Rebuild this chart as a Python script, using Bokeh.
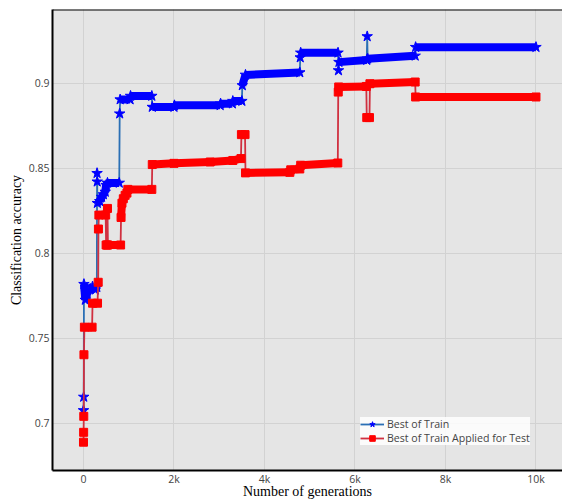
import numpy as np
from bokeh.plotting import figure
from bokeh.models import FixedTicker, Span, Legend, LegendItem, Range1d, ColumnDataSource
from bokeh.embed import file_html
from bokeh.resources import INLINE

# Best accuracy on the training set, by generation
train_gen = [0, 5, 10, 40, 80, 150, 200, 260, 295, 300, 303, 306, 360, 400, 440, 480,
             500, 530, 790, 800, 810, 1030, 1040, 1510, 1520, 2000, 2010, 3020, 3030,
             3290, 3300, 3500, 3510, 3580, 4780, 4790, 4800, 5625, 5635, 5645, 6260,
             6270, 6280, 7330, 7340, 10000]
train_acc = [0.7076, 0.7155, 0.7818, 0.7725, 0.7765, 0.7790, 0.7804, 0.7785, 0.7800,
             0.8470, 0.8420, 0.8294, 0.8305, 0.8330, 0.8345, 0.8360, 0.8400, 0.8413,
             0.8413, 0.8820, 0.8903, 0.8903, 0.8924, 0.8924, 0.8859, 0.8859, 0.8869,
             0.8869, 0.8879, 0.8879, 0.8894, 0.8894, 0.8986, 0.9048, 0.9062, 0.9150,
             0.9178, 0.9178, 0.9074, 0.9123, 0.9135, 0.9274, 0.9143, 0.9160, 0.9211,
             0.9211]

# The same individuals evaluated on the test set
test_gen = [0, 3, 6, 10, 20, 190, 200, 310, 325, 330, 340, 490, 500, 520, 530, 540,
            820, 830, 850, 880, 920, 960, 980, 1510, 1520, 2000, 2800, 3300, 3480,
            3490, 3570, 3580, 4560, 4580, 4780, 4800, 5620, 5630, 5640, 6250, 6260,
            6320, 6330, 7330, 7340, 10000]
test_acc = [0.6889, 0.6947, 0.7041, 0.7403, 0.7565, 0.7565, 0.7706, 0.7706, 0.7829,
            0.8142, 0.8224, 0.8224, 0.8048, 0.8048, 0.8263, 0.8048, 0.8048, 0.8210,
            0.8294, 0.8320, 0.8340, 0.8353, 0.8375, 0.8375, 0.8521, 0.8528, 0.8536,
            0.8545, 0.8556, 0.8697, 0.8697, 0.8472, 0.8475, 0.8490, 0.8495, 0.8517,
            0.8530, 0.8947, 0.8977, 0.8980, 0.8797, 0.8797, 0.8996, 0.9006, 0.8918,
            0.8918]

x_ticks = [0, 2000, 4000, 6000, 8000, 10000]
x_tick_labels = ["0", "2k", "4k", "6k", "8k", "10k"]
y_ticks = [0.7, 0.75, 0.8, 0.85, 0.9]
y_tick_labels = ["0.7", "0.75", "0.8", "0.85", "0.9"]

Y_TOP = 0.94323

p = figure(width=562, height=501,
           x_range=Range1d(-685, 10586), y_range=Range1d(0.67226, Y_TOP),
           output_backend="svg", toolbar_location=None,
           min_border_left=52, min_border_right=0, min_border_top=9,
           min_border_bottom=30)

p.background_fill_color = "#e5e5e5"
p.border_fill_color = "white"
p.outline_line_color = None

p.xaxis.ticker = FixedTicker(ticks=x_ticks)
p.xaxis.major_label_overrides = {t: s for t, s in zip(x_ticks, x_tick_labels)}
p.yaxis.ticker = FixedTicker(ticks=y_ticks)
p.yaxis.major_label_overrides = {t: s for t, s in zip(y_ticks, y_tick_labels)}
for ax in (p.xaxis, p.yaxis):
    ax.axis_line_color = "black"
    ax.axis_line_width = 2
    ax.major_tick_line_color = None
    ax.minor_tick_line_color = None
    ax.major_tick_out = 0
    ax.major_tick_in = 0
    ax.minor_tick_out = 0
    ax.minor_tick_in = 0
    ax.major_label_text_font = "Open Sans"
    ax.major_label_text_font_size = "10.5px"
    ax.major_label_text_color = "#444444"
    ax.axis_label_text_font = "Liberation Serif"
    ax.axis_label_text_font_size = "14px"
    ax.axis_label_text_font_style = "normal"
    ax.axis_label_text_color = "black"
p.xaxis.axis_label = "Number of generations"
p.yaxis.axis_label = "Classification accuracy"
p.xaxis.major_label_standoff = 1
p.xaxis.axis_label_standoff = -5
p.yaxis.major_label_standoff = 3
p.yaxis.axis_label_standoff = 2

p.xgrid.ticker = FixedTicker(ticks=x_ticks)
p.ygrid.ticker = FixedTicker(ticks=y_ticks)
p.grid.grid_line_color = "#d2d2d2"
p.grid.grid_line_width = 1

# top edge of the plotting area
p.add_layout(Span(location=Y_TOP, dimension="width", line_color="black", line_width=2))


def flat_runs(gen, acc, min_gap=15):
    """Segments between consecutive points that are far apart in generations."""
    g = np.asarray(gen, dtype=float)
    a = np.asarray(acc, dtype=float)
    keep = np.diff(g) > min_gap
    return ColumnDataSource(dict(x0=g[:-1][keep], x1=g[1:][keep],
                                 y0=a[:-1][keep], y1=a[1:][keep]))


def draw_series(gen, acc, line_color, mark_color, marker, size, band):
    line = p.line(gen, acc, line_color=line_color, line_width=1.8)
    p.segment("x0", "y0", "x1", "y1", source=flat_runs(gen, acc),
              line_color=mark_color, line_width=band, line_cap="butt")
    pts = p.scatter(gen, acc, marker=marker, size=size,
                    fill_color=mark_color, line_color=mark_color)
    return line, pts


bl, bs = draw_series(train_gen, train_acc, "#2a6fb5", "#0000ff", "star", 11, 8)
rl, rs = draw_series(test_gen, test_acc, "#d03040", "#ff0000", "square", 8, 8)

legend = Legend(items=[LegendItem(label="Best of Train", renderers=[bl, bs]),
                       LegendItem(label="Best of Train Applied for Test", renderers=[rl, rs])],
                location=(308, 25))
legend.label_text_font = "Open Sans"
legend.label_text_font_size = "10.6px"
legend.label_text_color = "#444444"
legend.glyph_width = 24
legend.glyph_height = 14
legend.label_height = 14
legend.label_standoff = 3
legend.spacing = 0
legend.padding = 4
legend.margin = 0
legend.background_fill_color = "white"
legend.background_fill_alpha = 0.85
legend.border_line_color = None
p.add_layout(legend)

open("out.html", "w").write(file_html(p, INLINE))
